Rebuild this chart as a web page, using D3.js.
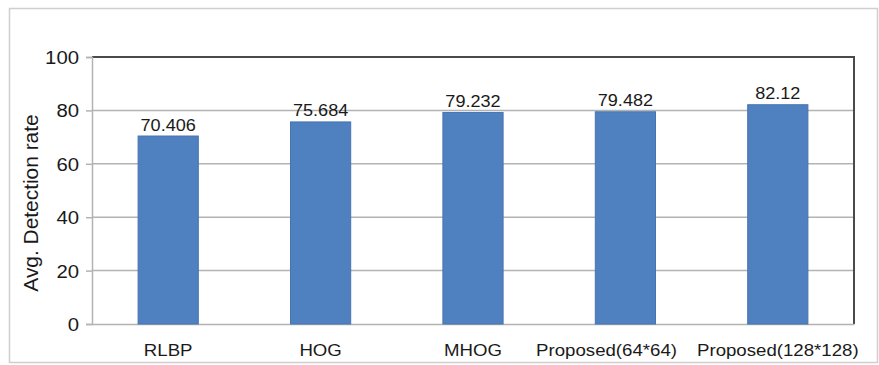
<!DOCTYPE html>
<html>
<head>
<meta charset="utf-8">
<script src="https://cdn.jsdelivr.net/npm/d3@7"></script>
<style>
  html, body { margin: 0; padding: 0; background: #fff; }
  svg { display: block; font-family: "Liberation Sans", Arial, Helvetica, sans-serif; }
</style>
</head>
<body>
<svg id="chart" width="879" height="365"></svg>
<script>
// Average detection rate per method
const categories = ["RLBP", "HOG", "MHOG", "Proposed(64*64)", "Proposed(128*128)"];
const values = [70.406, 75.684, 79.232, 79.482, 82.12];
const valueLabels = ["70.406", "75.684", "79.232", "79.482", "82.12"];
const yTicks = [0, 20, 40, 60, 80, 100];
const yTitle = "Avg. Detection rate";

const svg = d3.select("#chart");
const plot = { left: 92, right: 854, top: 57, bottom: 324 };
const stretch = 1.13; // glyphs are set slightly wide

// outer chart border
svg.append("rect")
  .attr("x", 9.5).attr("y", 8.5)
  .attr("width", 868).attr("height", 354)
  .attr("fill", "#fff")
  .attr("stroke", "#cfcfcf").attr("stroke-width", 1.5);

const x = d3.scaleBand()
  .domain(categories)
  .range([plot.left, plot.right])
  .paddingInner(0.605).paddingOuter(0.3025);

const y = d3.scaleLinear().domain([0, 100]).range([plot.bottom, plot.top]);

// horizontal gridlines
svg.append("g")
  .selectAll("line")
  .data(yTicks.filter(t => t > 0 && t < 100))
  .join("line")
  .attr("x1", plot.left).attr("x2", plot.right)
  .attr("y1", d => y(d)).attr("y2", d => y(d))
  .attr("stroke", "#b3b3b3").attr("stroke-width", 1.5);

// plot frame: dark top and right edges
svg.append("path")
  .attr("d", `M${plot.left},${y(100)}H${plot.right}V${plot.bottom}`)
  .attr("fill", "none")
  .attr("stroke", "#4a4a4a").attr("stroke-width", 2);

// y axis
const yAxis = d3.axisLeft(y).tickValues(yTicks).tickSize(6).tickPadding(8);
const gy = svg.append("g").attr("transform", `translate(${plot.left},0)`).call(yAxis);
gy.select(".domain").attr("stroke", "#b3b3b3").attr("stroke-width", 1.5);
gy.selectAll(".tick line").attr("stroke", "#b3b3b3").attr("stroke-width", 1.5);
gy.selectAll(".tick text")
  .attr("x", null).attr("dy", null)
  .attr("font-size", 18).attr("fill", "#1a1a1a")
  .attr("text-anchor", "end")
  .attr("transform", `translate(-13,6.5) scale(${stretch},1)`);

// x axis baseline and category labels
const xAxis = d3.axisBottom(x).tickSize(0).tickPadding(0);
const gx = svg.append("g").attr("transform", `translate(0,${plot.bottom})`).call(xAxis);
gx.select(".domain").attr("stroke", "#b3b3b3").attr("stroke-width", 1.5);
const catText = gx.selectAll(".tick text")
  .attr("y", null).attr("dy", null)
  .attr("font-size", 16.5).attr("fill", "#1a1a1a")
  .attr("transform", `translate(0,32) scale(${stretch},1)`);

// keep neighbouring category labels apart: nudge a label left when it
// would run into the one on its right
const minGap = 20;
const nodes = catText.nodes();
const shifts = nodes.map(() => 0);
for (let i = nodes.length - 2; i >= 0; i--) {
  const a = nodes[i].getBBox(), b = nodes[i + 1].getBBox();
  const ca = x(categories[i]) + x.bandwidth() / 2 + shifts[i];
  const cb = x(categories[i + 1]) + x.bandwidth() / 2 + shifts[i + 1];
  const rightA = ca + a.width * stretch / 2;
  const leftB = cb - b.width * stretch / 2;
  if (rightA + minGap > leftB) shifts[i] -= rightA + minGap - leftB;
}
catText.attr("transform", (d, i) => `translate(${shifts[i]},32) scale(${stretch},1)`);

// bars
svg.append("g")
  .selectAll("rect")
  .data(values)
  .join("rect")
  .attr("x", (d, i) => x(categories[i]))
  .attr("width", x.bandwidth())
  .attr("y", d => y(d))
  .attr("height", d => y(0) - y(d))
  .attr("fill", "#4f80c0")
  .attr("stroke", "#4674b0").attr("stroke-width", 1);

// value labels above bars
svg.append("g")
  .selectAll("text")
  .data(values)
  .join("text")
  .attr("transform", (d, i) =>
    `translate(${x(categories[i]) + x.bandwidth() / 2},${y(d) - 5.5}) scale(${stretch},1)`)
  .attr("text-anchor", "middle")
  .attr("font-size", 16)
  .attr("fill", "#1a1a1a")
  .text((d, i) => valueLabels[i]);

// y axis title
svg.append("text")
  .attr("transform", "translate(38,203) rotate(-90) scale(1.1,1.1)")
  .attr("text-anchor", "middle")
  .attr("font-size", 19)
  .attr("fill", "#1a1a1a")
  .text(yTitle);
</script>
</body>
</html>
